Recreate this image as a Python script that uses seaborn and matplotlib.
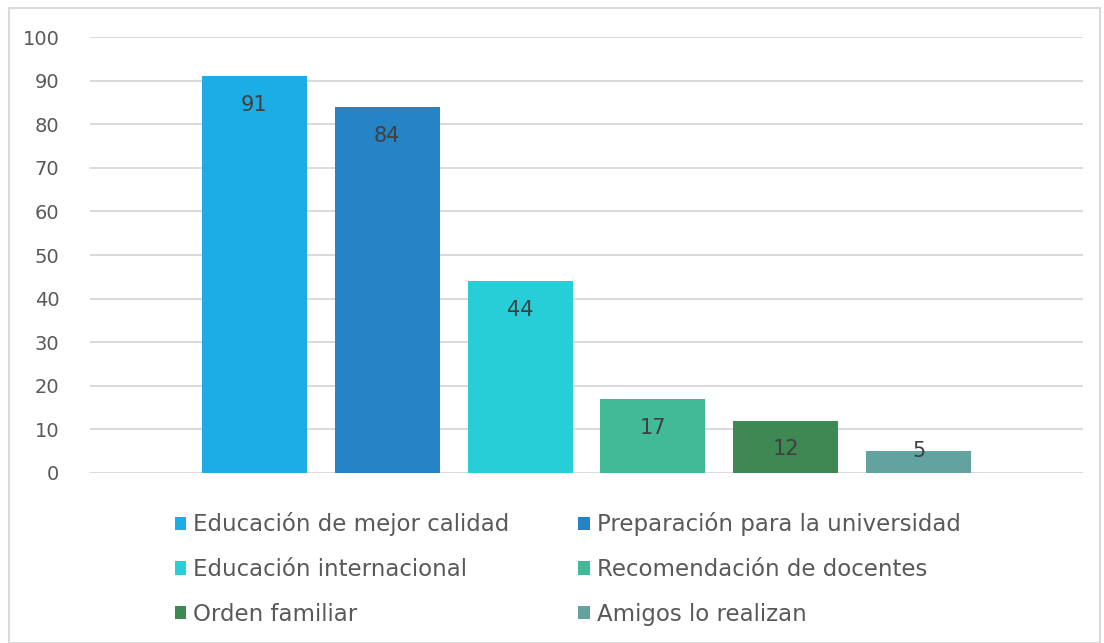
import matplotlib
matplotlib.use("Agg")
from matplotlib import pyplot as plt
from matplotlib.patches import Rectangle
import numpy as np
import seaborn as sns

motivos = ["Educación de mejor calidad", "Preparación para la universidad",
           "Educación internacional", "Recomendación de docentes",
           "Orden familiar", "Amigos lo realizan"]
valores = [91, 84, 44, 17, 12, 5]
colores = ["#1CADE4", "#2683C6", "#27CED7", "#42BA97", "#3E8853", "#62A39F"]
yticks = list(range(0, 101, 10))

sns.set_style("white")
plt.rcParams["font.family"] = ["DejaVu Sans"]

fig = plt.figure(figsize=(11.04, 6.43), dpi=100)
ax = fig.add_axes([0.0815, 0.2644, 0.8995, 0.678])

sns.barplot(x=motivos, y=valores, hue=motivos, palette=colores, width=0.79,
            saturation=1, legend=True, linewidth=0, edgecolor="none", ax=ax)

ax.set_ylim(0, 100)
ax.set_xlim(-1.237, 6.237)
ax.set_yticks(yticks)
ax.set_xticks([])
ax.yaxis.grid(True, color="#D9D9D9", linewidth=1.4)
ax.set_axisbelow(True)
for s in ax.spines.values():
    s.set_visible(False)
ax.tick_params(axis="y", length=0, pad=22, labelsize=14, labelcolor="#595959")
ax.set_ylabel("")

# etiquetas de datos (dentro del extremo)
for i, v in enumerate(valores):
    y = v - 6.6 if v > 8 else v
    ax.text(i, y, str(v), ha="center", va="center", fontsize=15, color="#404040")

h, l = ax.get_legend_handles_labels()
orden = [0, 2, 4, 1, 3, 5]
ax.legend([h[k] for k in orden], [l[k] for k in orden], ncol=2,
          loc="upper center", bbox_to_anchor=(0.481, -0.043), frameon=False,
          fontsize=16.5, labelcolor="#595959", handlelength=0.5, handleheight=0.5,
          handletextpad=0.3, columnspacing=3.0, labelspacing=0.95)

fig.patches.append(Rectangle((9 / 1104, 0.0), 1 - 13 / 1104, 1 - 8 / 643,
                             transform=fig.transFigure, fill=False,
                             edgecolor="#D9D9D9", linewidth=1.5))

plt.savefig("out.png", dpi=100)
